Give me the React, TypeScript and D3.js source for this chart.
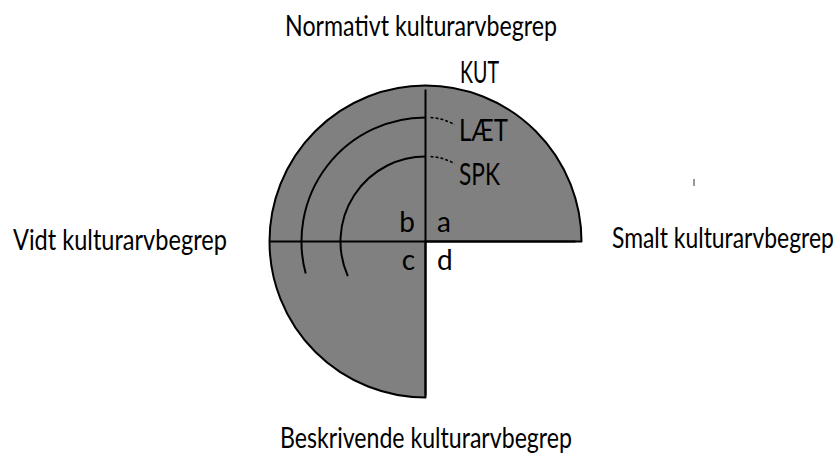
import { useEffect, useRef } from 'react'
import * as d3 from 'd3'

// axis names around the diagram
const axisLabels = [
  { text: 'Normativt kulturarvbegrep', side: 'top' },
  { text: 'Vidt kulturarvbegrep', side: 'left' },
  { text: 'Smalt kulturarvbegrep', side: 'right' },
  { text: 'Beskrivende kulturarvbegrep', side: 'bottom' },
]

// quadrant letters
const quadrants = ['a', 'b', 'c', 'd']

// rings (share of full radius) and how far past the horizontal they run, degrees
const ringNames = ['KUT', 'LÆT', 'SPK']
const ringRadius = [1, 0.795, 0.545]
const ringOvershoot = [0, 15, 24]

const W = 840
const H = 454

export default function App() {
  const svgRef = useRef<SVGSVGElement | null>(null)

  useEffect(() => {
    if (!svgRef.current) return
    const svg = d3.select(svgRef.current)
    svg.selectAll('*').remove()

    const cx = 425.5
    const cy = 241.5
    const R = 156
    const r = d3.scaleLinear().domain([0, 1]).range([0, R])
    const font = "Lato, 'Open Sans', sans-serif"

    const g = svg.append('g')

    // squeeze a text horizontally to a target width (source face is narrow)
    const squeezed = (
      txt: string,
      x: number,
      y: number,
      w: number,
      size: number,
      anchor: string,
    ) => {
      const t = g
        .append('text')
        .attr('font-family', font)
        .attr('font-size', size)
        .attr('text-anchor', anchor)
        .attr('fill', '#000')
        .text(txt)
      const len = (t.node() as SVGTextElement).getComputedTextLength() || w
      t.attr('transform', `translate(${x},${y}) scale(${w / len},1)`)
    }

    // three-quarter disc (quadrant d left open)
    const wedge = d3
      .arc<any>()
      .innerRadius(0)
      .outerRadius(r(ringRadius[0]))
      .startAngle(Math.PI)
      .endAngle(Math.PI * 2.5)
    g.append('path')
      .attr('transform', `translate(${cx},${cy})`)
      .attr('d', wedge({}) as string)
      .attr('fill', '#808080')
      .attr('stroke', '#000')
      .attr('stroke-width', 2)
      .attr('stroke-linejoin', 'round')

    // cross lines
    g.append('line')
      .attr('x1', cx).attr('x2', cx)
      .attr('y1', cy - r(ringRadius[0]) + 4).attr('y2', cy + r(ringRadius[0]) - 2)
      .attr('stroke', '#000').attr('stroke-width', 2)
    g.append('line')
      .attr('x1', cx - r(ringRadius[0])).attr('x2', cx + r(ringRadius[0]) - 6)
      .attr('y1', cy).attr('y2', cy)
      .attr('stroke', '#000').attr('stroke-width', 2)

    // inner rings: from the top, round to the left, a bit past horizontal
    ringNames.forEach((name, i) => {
      if (i === 0) return
      const rad = r(ringRadius[i])
      const p = d3.path()
      p.arc(cx, cy, rad, Math.PI * 1.5, Math.PI - (ringOvershoot[i] * Math.PI) / 180, true)
      g.append('path')
        .attr('d', p.toString())
        .attr('fill', 'none')
        .attr('stroke', '#000')
        .attr('stroke-width', 2)

      // dashed leader to the label
      const y0 = cy - rad
      const lp = d3.path()
      lp.moveTo(cx + 5, y0)
      lp.quadraticCurveTo(cx + 18, y0 + 1, cx + 29, y0 + 7)
      g.append('path')
        .attr('d', lp.toString())
        .attr('fill', 'none')
        .attr('stroke', '#000')
        .attr('stroke-width', 1.6)
        .attr('stroke-dasharray', '3,2')
    })

    // ring labels
    const ringLabelY = [83, 141, 185]
    const ringLabelX = [460, 459, 459]
    const ringLabelW = [39, 49, 41]
    ringNames.forEach((name, i) => {
      squeezed(name, ringLabelX[i], ringLabelY[i], ringLabelW[i], 30, 'start')
    })

    // quadrant letters
    const qPos = [
      { x: 437, y: 232, anchor: 'start' },
      { x: 415, y: 232, anchor: 'end' },
      { x: 415, y: 270, anchor: 'end' },
      { x: 437, y: 270, anchor: 'start' },
    ]
    quadrants.forEach((q, i) => {
      g.append('text')
        .attr('x', qPos[i].x)
        .attr('y', qPos[i].y)
        .attr('text-anchor', qPos[i].anchor)
        .attr('font-family', font)
        .attr('font-size', 28)
        .attr('fill', '#000')
        .text(q)
    })

    // axis names
    const aPos: Record<string, { x: number; y: number; anchor: string; w: number }> = {
      top: { x: 421, y: 36, anchor: 'middle', w: 272 },
      left: { x: 13, y: 250, anchor: 'start', w: 214 },
      right: { x: 612, y: 248, anchor: 'start', w: 222 },
      bottom: { x: 426, y: 448, anchor: 'middle', w: 292 },
    }
    axisLabels.forEach((d) => {
      const p = aPos[d.side]
      squeezed(d.text, p.x, p.y, p.w, 28, p.anchor)
    })

    // stray tick in the source image
    g.append('line')
      .attr('x1', 694).attr('x2', 694)
      .attr('y1', 179).attr('y2', 186)
      .attr('stroke', '#999').attr('stroke-width', 2)
  }, [])

  return (
    <svg
      ref={svgRef}
      width={W}
      height={H}
      style={{ position: 'absolute', left: 0, top: 0, background: '#fff' }}
    />
  )
}
